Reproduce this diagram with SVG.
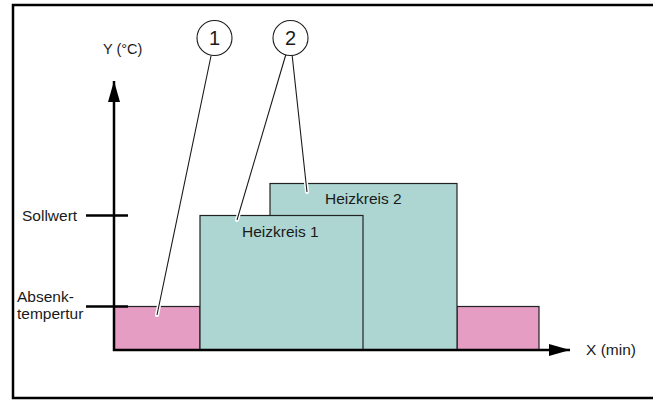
<svg xmlns="http://www.w3.org/2000/svg" width="653" height="400" viewBox="0 0 653 400">
<style>
text{font-family:"Liberation Sans",Arial,sans-serif;fill:#1a1a1a}
.lbl{font-size:15.5px}
.box{font-size:15.5px}
.num{font-size:20px;text-anchor:middle}
.ax{stroke:#000;stroke-width:2.5;fill:none}
.halo{stroke:#fff;stroke-width:4;stroke-linecap:round;fill:none}
.lead{stroke:#1a1a1a;stroke-width:1.1;fill:none}
.teal{fill:#add6d2;stroke:#222;stroke-width:1.2}
.pink{fill:#e59dc3;stroke:#222;stroke-width:1.2}
</style>
<defs>
<marker id="arr" markerWidth="21" markerHeight="12" refX="21" refY="6" orient="auto" markerUnits="userSpaceOnUse">
<path d="M0,0 L21,6 L0,12 Z" fill="#000"/>
</marker>
</defs>
<rect x="13" y="5" width="660" height="393" fill="#fff" stroke="#000" stroke-width="2.5"/>
<g id="bars">
<rect id="pink1" class="pink" x="114" y="306.5" width="86" height="43.5"/>
<rect id="pink2" class="pink" x="457" y="306.5" width="82" height="43.5"/>
<g id="heizkreis2"><rect class="teal" x="270" y="183.5" width="187" height="166.5"/><text class="box" x="325" y="204">Heizkreis 2</text></g>
<g id="heizkreis1"><rect class="teal" x="200" y="215.5" width="163" height="134.5"/><text class="box" x="242" y="237">Heizkreis 1</text></g>
</g>
<g id="axes">
<line class="ax" x1="114" y1="351" x2="114" y2="81" marker-end="url(#arr)"/>
<line class="ax" x1="113" y1="350" x2="570" y2="350" marker-end="url(#arr)"/>
<line class="ax" x1="86" y1="215.5" x2="128" y2="215.5"/>
<line class="ax" x1="86" y1="306.5" x2="128" y2="306.5"/>
</g>
<g id="labels">
<text class="lbl" x="103" y="54" style="font-size:14.5px">Y (°C)</text>
<text class="lbl" x="586" y="355">X (min)</text>
<text class="lbl" x="22" y="221">Sollwert</text>
<text class="lbl" x="17" y="302">Absenk-</text>
<text class="lbl" x="17" y="319">tempertur</text>
</g>
<g id="connectors">
<path class="halo" d="M211,56 L157,315 M286,54 L237,220 M292,54 L307,192"/>
<path class="lead" d="M211,56 L157,315 M286,54 L237,220 M292,54 L307,192"/>
</g>
<g id="callout1"><circle cx="214.5" cy="38" r="17.5" fill="#fff" stroke="#1a1a1a" stroke-width="1.1"/><text class="num" x="214.5" y="45">1</text></g>
<g id="callout2"><circle cx="290.5" cy="38" r="17.5" fill="#fff" stroke="#1a1a1a" stroke-width="1.1"/><text class="num" x="290.5" y="45">2</text></g>
</svg>
